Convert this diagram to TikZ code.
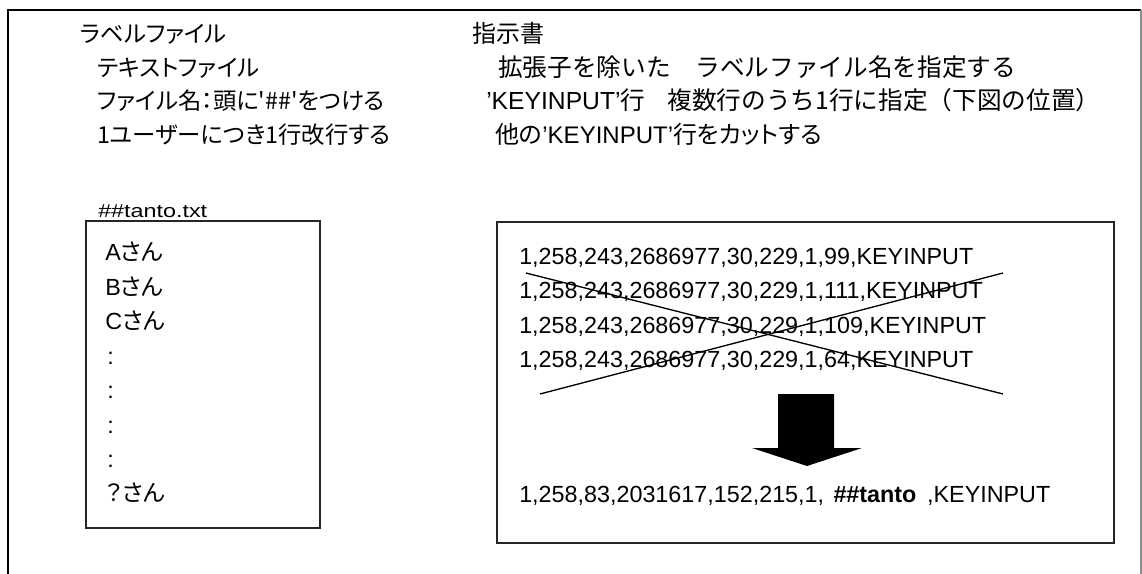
\documentclass[tikz,border=0pt]{standalone}
\usepackage{fontspec}
\setmainfont{Liberation Sans}
\newfontfamily\jp{Noto Sans CJK JP}[RawFeature=+palt]
\newfontfamily\jpw{Noto Sans CJK JP}
\begin{document}
\begin{tikzpicture}[x=0.75pt,y=-0.75pt,
  txt/.style={anchor=base west, inner sep=0pt, font=\fontsize{17.5}{20}\selectfont},
  rtxt/.style={anchor=base west, inner sep=0pt, font=\fontsize{18}{20}\selectfont},
  wtxt/.style={anchor=base west, inner sep=0pt, font=\fontsize{18.5}{20}\selectfont},
  small/.style={anchor=base west, inner sep=0pt, font=\fontsize{14}{16}\selectfont},
  boxline/.style={draw=black!85, line width=1.1pt},
  crossline/.style={draw=black, line width=1pt},
  frame/.style={draw=black, line width=1.4pt}]
\useasboundingbox (0,0) rectangle (1142,574);
% outer frame (open at bottom)
\coordinate (fbl) at (8,574);
\coordinate (ftl) at (8,10);
\coordinate (ftr) at (1141,10);
\coordinate (fbr) at (1141,574);
\draw[frame] (fbl) -- (ftl) -- (ftr);
\draw[draw=black!45, line width=0.8pt] (ftr) -- (fbr);
% headings left
\node[txt] (h1) at (80,43) {\jp ラベルファイル};
\node[txt] (h2) at (97,77) {\jp テキストファイル};
\node[txt] (h3) at (97,110) {\jp ファイル名：頭に'\#\#'をつける};
\node[txt] (h4) at (97,144) {\jp 1ユーザーにつき1行改行する};
% headings right
\node[rtxt] (r1) at (472,43) {\jp 指示書};
\node[wtxt] (r2) at (498,77) {\jpw 拡張子を除いた　ラベルファイル名を指定する};
\node[wtxt] (r3) at (486,110) {'KEYINPUT'{\jpw 行}\hspace{0.9em}{\jpw 複数行のうち1行に指定（下図の位置）}};
\node[rtxt] (r4) at (495,144) {{\jp 他の}'KEYINPUT'{\jp 行をカットする}};
% file box
\node[small] (fname) at (98,218) {\scalebox{1.25}[1]{\#\#tanto.txt}};
\draw[boxline] (86,221) rectangle (320,528);
\node[txt] (a1) at (105,260) {A{\jp さん}};
\node[txt] (a2) at (105,295) {B{\jp さん}};
\node[txt] (a3) at (105,329) {C{\jp さん}};
\node[txt] (d1) at (107,364) {:};
\node[txt] (d2) at (107,398) {:};
\node[txt] (d3) at (107,433) {:};
\node[txt] (d4) at (107,467) {:};
\node[txt] (a4) at (105,501) {{\jp ？さん}};
% instruction box
\draw[boxline] (497,222) rectangle (1114,543);
\node[txt] (k1) at (519,264) {1,258,243,2686977,30,229,1,99,KEYINPUT};
\node[txt] (k2) at (519,298) {1,258,243,2686977,30,229,1,111,KEYINPUT};
\node[txt] (k3) at (519,333) {1,258,243,2686977,30,229,1,109,KEYINPUT};
\node[txt] (k4) at (519,367) {1,258,243,2686977,30,229,1,64,KEYINPUT};
% cross
\draw[crossline] (526,273) -- (1003,394);
\draw[crossline] (540,394) -- (1003,273);
% block arrow
\fill[black] (778,394) -- (834,394) -- (834,448) -- (862,448) -- (807,466) -- (752,448) -- (778,448) -- cycle;
\node[txt] (res) at (519,502) {1,258,83,2031617,152,215,1,\hspace{7pt}\textbf{\#\#tanto}\hspace{8pt},KEYINPUT};
\end{tikzpicture}
\end{document}
